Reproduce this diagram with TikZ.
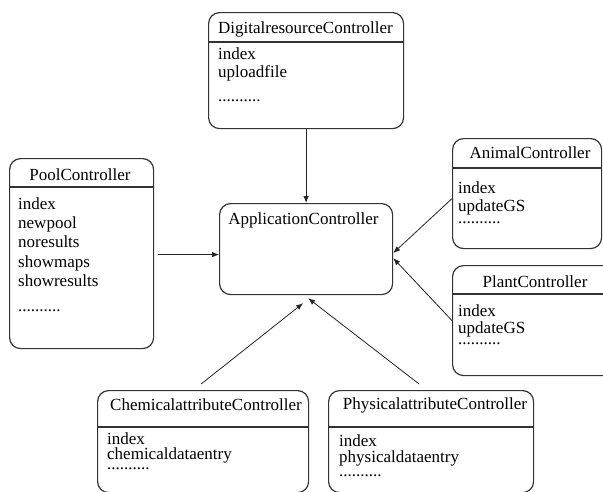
\documentclass[tikz,border=0pt]{standalone}
\usepackage{fontspec}
\setmainfont{Liberation Serif}
\usetikzlibrary{arrows.meta}
\begin{document}
\begin{tikzpicture}[x=1pt,y=-1pt,
  ctrl/.style={draw=black!80, line width=1.2pt, rounded corners=11pt,
    inner sep=0pt, anchor=north west},
  rule/.style={draw=black!80, line width=1.2pt},
  title/.style={anchor=base, inner sep=0pt, font=\fontsize{17}{19}\selectfont},
  item/.style={anchor=base west, inner sep=0pt, font=\fontsize{17}{19}\selectfont},
  link/.style={draw=black!85, line width=0.8pt, -{Latex[length=7pt,width=5.5pt]}}]
\useasboundingbox (0,0) rectangle (603,491);
\clip (0,0) rectangle (603,491);
\fill[white] (0,0) rectangle (603,491);

% controller boxes
\node[ctrl, minimum width=195pt, minimum height=116pt] (dig) at (208,12) {};
\node[ctrl, minimum width=144pt, minimum height=190pt] (pool) at (9,158) {};
\node[ctrl, minimum width=173pt, minimum height=91pt] (app) at (219,203) {};
\node[ctrl, minimum width=149pt, minimum height=110pt] (animal) at (452,138) {};
\node[ctrl, minimum width=166pt, minimum height=110pt] (plant) at (452,265) {};
\node[ctrl, minimum width=211pt, minimum height=102pt] (chem) at (97,390) {};
\node[ctrl, minimum width=205pt, minimum height=102pt] (phys) at (328,390) {};

% header rules
\draw[rule] (dig.west |- 0,42) -- (dig.east |- 0,42);
\draw[rule] (pool.west |- 0,187) -- (pool.east |- 0,187);
\draw[rule] (animal.west |- 0,168) -- (animal.east |- 0,168);
\draw[rule] (plant.west |- 0,294) -- (plant.east |- 0,294);
\draw[rule] (chem.west |- 0,427) -- (chem.east |- 0,427);
\draw[rule] (phys.west |- 0,427) -- (phys.east |- 0,427);

% titles
\node[title] (dig-t) at (305.5,33) {DigitalresourceController};
\node[title] (pool-t) at (80,180) {PoolController};
\node[title] (app-t) at (303.5,224) {ApplicationController};
\node[title] (animal-t) at (530,158) {AnimalController};
\node[title] (plant-t) at (535,287) {PlantController};
\node[title] (chem-t) at (206,410) {ChemicalattributeController};
\node[title] (phys-t) at (435,409) {PhysicalattributeController};

% actions
\foreach \t/\y [count=\i] in {index/59, uploadfile/77, {..........}/101}
  \node[item] (dig-\i) at (218,\y) {\t};
\foreach \t/\y [count=\i] in {index/209, newpool/228, noresults/247,
    showmaps/267, showresults/286, {..........}/311}
  \node[item] (pool-\i) at (18,\y) {\t};
\foreach \t/\y [count=\i] in {index/193, updateGS/211, {..........}/223}
  \node[item] (animal-\i) at (458,\y) {\t};
\foreach \t/\y [count=\i] in {index/316, updateGS/333, {..........}/344}
  \node[item] (plant-\i) at (458,\y) {\t};
\foreach \t/\y [count=\i] in {index/444, chemicaldataentry/459, {..........}/469}
  \node[item] (chem-\i) at (107,\y) {\t};
\foreach \t/\y [count=\i] in {index/446, physicaldataentry/462, {..........}/476}
  \node[item] (phys-\i) at (339,\y) {\t};

% connectors
\draw[link] (dig.south) -- (app.north);
\draw[link] ([xshift=4pt,yshift=-1pt]pool.east) -- ([yshift=-1pt]pool.east -| app.west);
\draw[link] ([yshift=-5pt]animal.west) -- ([yshift=-4pt]app.east);
\draw[link] (plant.west) -- ([yshift=-9pt]app.east);
\draw[link] ([xshift=-2pt,yshift=6pt]chem.north) -- ([xshift=-3pt,yshift=-8pt]app.south);
\draw[link] ([xshift=-12pt,yshift=6pt]phys.north) -- ([xshift=2pt,yshift=-3pt]app.south);
\end{tikzpicture}
\end{document}
